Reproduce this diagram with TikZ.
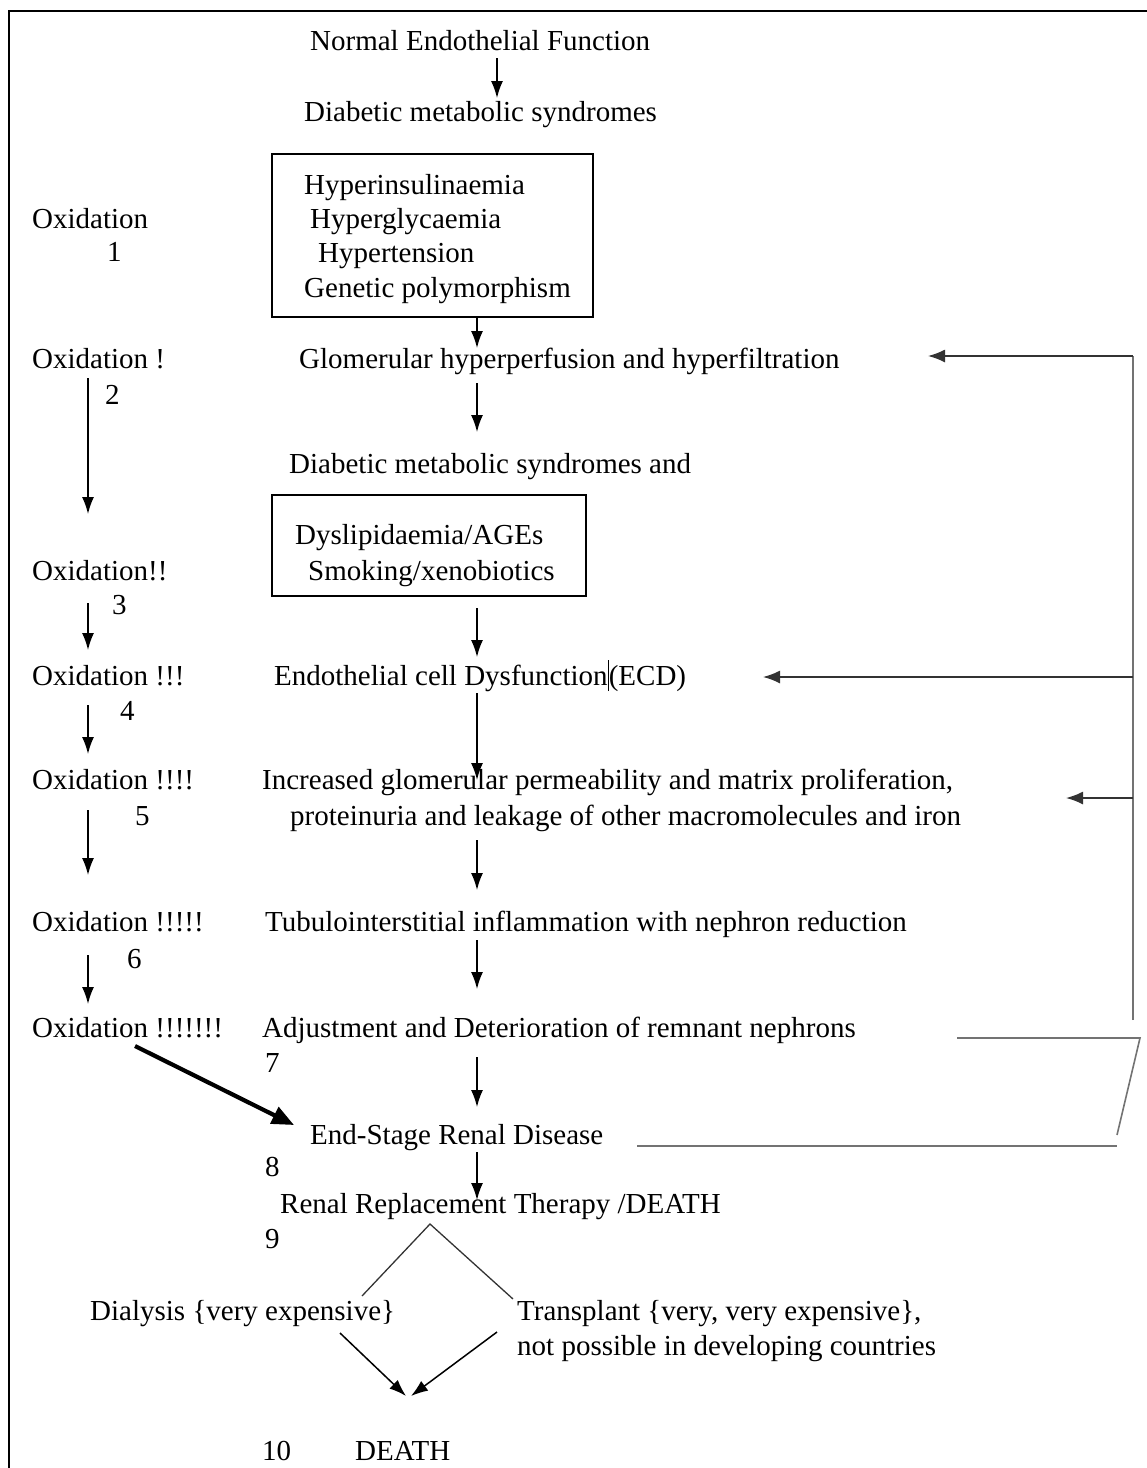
\documentclass[tikz,border=0pt]{standalone}
\usepackage{fontspec}
\setmainfont{Liberation Serif}
\usetikzlibrary{arrows.meta}
\begin{document}
\begin{tikzpicture}[x=1pt,y=-1pt,
  txt/.style={anchor=base west,inner sep=0pt,font=\fontsize{29}{35}\selectfont},
  boxn/.style={draw,line width=1.5pt,anchor=north west,inner sep=0pt},
  arr/.style={line width=1.5pt,-{Latex[length=17pt,width=12pt]}},
  fb/.style={line width=1.6pt,draw=black!55},
  fbarr/.style={line width=1.6pt,draw=black!80,-{Latex[length=17pt,width=13pt]}}]
\useasboundingbox (0,0) rectangle (1147,1468);
% frame (left and top edges)
\draw[line width=2.2pt] (9,1468) -- (9,11) -- (1147,11);

% main column texts
\node[txt] (nef) at (310,50) {Normal Endothelial Function};
\node[txt] (dms) at (304,121) {Diabetic metabolic syndromes};
\node[boxn,minimum width=321pt,minimum height=163pt] (b1) at (271,153) {};
\node[txt] (h1) at (304,194) {Hyperinsulinaemia};
\node[txt] (h2) at (310,228) {Hyperglycaemia};
\node[txt] (h3) at (318,262) {Hypertension};
\node[txt] (h4) at (304,297) {Genetic polymorphism};
\node[txt] (glom) at (299,368) {Glomerular hyperperfusion and hyperfiltration};
\node[txt] (dmsa) at (289,473) {Diabetic metabolic syndromes and};
\node[boxn,minimum width=314pt,minimum height=101pt] (b2) at (271,494) {};
\node[txt] (dys) at (295,544) {Dyslipidaemia/AGEs};
\node[txt] (smk) at (308,580) {Smoking/xenobiotics};
\node[txt] (ecd) at (274,685) {Endothelial cell Dysfunction\rule[-6pt]{1.2pt}{31pt}(ECD)};
\node[txt] (inc1) at (262,789) {Increased glomerular permeability and matrix proliferation,};
\node[txt] (inc2) at (290,825) {proteinuria and leakage of other macromolecules and iron};
\node[txt] (tub) at (265,931) {Tubulointerstitial inflammation with nephron reduction};
\node[txt] (adj) at (262,1037) {Adjustment and Deterioration of remnant nephrons};
\node[txt] (n7) at (265,1072) {7};
\node[txt] (esrd) at (310,1144) {End-Stage Renal Disease};
\node[txt] (n8) at (265,1176) {8};
\node[txt] (rrt) at (280,1213) {Renal Replacement Therapy /DEATH};
\node[txt] (n9) at (265,1248) {9};
\node[txt] (dial) at (90,1320) {Dialysis \{very expensive\}};
\node[txt] (tx1) at (517,1320) {Transplant \{very, very expensive\},};
\node[txt] (tx2) at (517,1355) {not possible in developing countries};
\node[txt] (n10) at (262,1460) {10};
\node[txt] (death) at (355,1460) {DEATH};

% left column texts
\node[txt] (o1) at (32,228) {Oxidation};
\node[txt] (l1) at (107,261) {1};
\node[txt] (o2) at (32,368) {Oxidation !};
\node[txt] (l2) at (105,404) {2};
\node[txt] (o3) at (32,580) {Oxidation!!};
\node[txt] (l3) at (112,614) {3};
\node[txt] (o4) at (32,685) {Oxidation !!!};
\node[txt] (l4) at (120,720) {4};
\node[txt] (o5) at (32,789) {Oxidation !!!!};
\node[txt] (l5) at (135,825) {5};
\node[txt] (o6) at (32,931) {Oxidation !!!!!};
\node[txt] (l6) at (127,968) {6};
\node[txt] (o7) at (32,1037) {Oxidation !!!!!!!};

% named points for connectors
\coordinate (a1s) at (497,58);  \coordinate (a1e) at (497,98);
\coordinate (a2e) at (477,348);
\coordinate (a3s) at (477,383); \coordinate (a3e) at (477,432);
\coordinate (a4s) at (477,608); \coordinate (a4e) at (477,657);
\coordinate (a5s) at (477,693); \coordinate (a5e) at (477,780);
\coordinate (a6s) at (477,840); \coordinate (a6e) at (477,890);
\coordinate (a7s) at (477,940); \coordinate (a7e) at (477,989);
\coordinate (a8s) at (477,1057); \coordinate (a8e) at (477,1107);
\coordinate (a9s) at (477,1152); \coordinate (a9e) at (477,1200);
\coordinate (la1s) at (88,378); \coordinate (la1e) at (88,514);
\coordinate (la2s) at (88,603); \coordinate (la2e) at (88,650);
\coordinate (la3s) at (88,705); \coordinate (la3e) at (88,754);
\coordinate (la4s) at (88,810); \coordinate (la4e) at (88,875);
\coordinate (la5s) at (88,955); \coordinate (la5e) at (88,1004);
\coordinate (ths) at (135,1046); \coordinate (the) at (294,1125);
\coordinate (ap) at (430,1224);
\coordinate (lft) at (362,1296); \coordinate (rgt) at (513,1299);
\coordinate (d1s) at (340,1333); \coordinate (d1e) at (406,1396);
\coordinate (d2s) at (497,1332); \coordinate (d2e) at (411,1396);
% feedback loop
\coordinate (fv1) at (1133,356); \coordinate (fh1) at (928,356);
\coordinate (fv2) at (1133,677); \coordinate (fh2) at (763,677);
\coordinate (fv3) at (1133,798); \coordinate (fh3) at (1066,798);
\coordinate (fvb) at (1133,1020);
\coordinate (fa) at (957,1038); \coordinate (fb1) at (1140,1038);
\coordinate (fb2) at (1117,1135);
\coordinate (fc) at (637,1146); \coordinate (fc2) at (1117,1146);

% main arrows
\draw[arr] (a1s) -- (a1e);
\draw[arr] (b1.south -| a2e) -- (a2e);
\draw[arr] (a3s) -- (a3e);
\draw[arr] (a4s) -- (a4e);
\draw[arr] (a5s) -- (a5e);
\draw[arr] (a6s) -- (a6e);
\draw[arr] (a7s) -- (a7e);
\draw[arr] (a8s) -- (a8e);
\draw[arr] (a9s) -- (a9e);
% left arrows
\draw[arr] (la1s) -- (la1e);
\draw[arr] (la2s) -- (la2e);
\draw[arr] (la3s) -- (la3e);
\draw[arr] (la4s) -- (la4e);
\draw[arr] (la5s) -- (la5e);
\draw[line width=4.2pt,-{Triangle[length=22pt,width=18pt]}] (ths) -- (the);
% branches
\draw[line width=1.3pt,draw=black!80] (lft) -- (ap) -- (rgt);
\draw[arr] (d1s) -- (d1e);
\draw[arr] (d2s) -- (d2e);
% feedback
\draw[fb] (fvb) -- (fv1);
\draw[fbarr] (fv1) -- (fh1);
\draw[fbarr] (fv2) -- (fh2);
\draw[fbarr] (fv3) -- (fh3);
\draw[fb] (fa) -- (fb1) -- (fb2);
\draw[fb] (fc) -- (fc2);
\end{tikzpicture}
\end{document}
